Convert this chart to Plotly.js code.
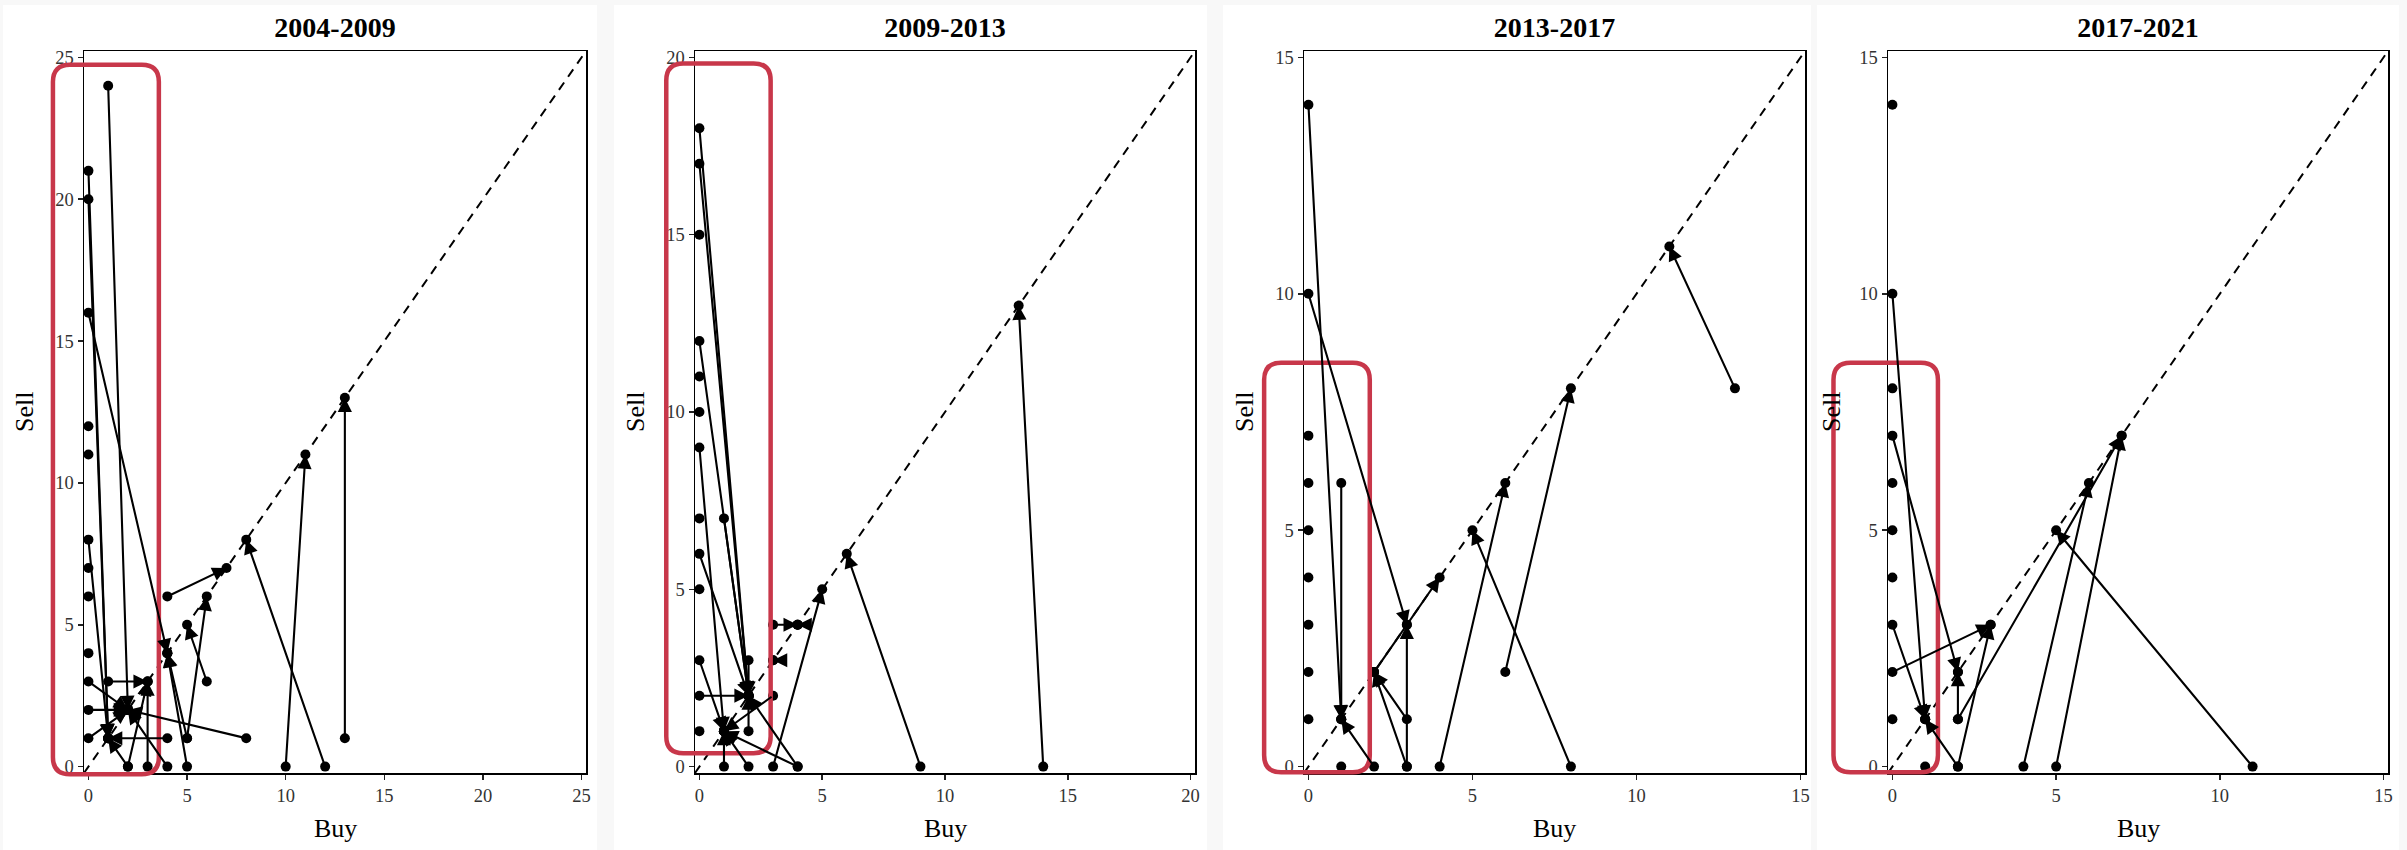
<!DOCTYPE html>
<html>
<head>
<meta charset="utf-8">
<script src="https://cdn.plot.ly/plotly-3.0.1.min.js"></script>
<style>
html,body{margin:0;padding:0;background:#f8f8f8;width:2407px;height:850px;overflow:hidden;}
.card{position:absolute;background:#ffffff;overflow:hidden;}
</style>
</head>
<body>
<div id="c1" class="card"></div>
<div id="c2" class="card"></div>
<div id="c3" class="card"></div>
<div id="c4" class="card"></div>
<script>
// ---------------- DATA ----------------
const panelTitles = ['2004-2009', '2009-2013', '2013-2017', '2017-2021'];
const axisMax = [25, 20, 15, 15];
const tickValues1 = [0, 5, 10, 15, 20, 25];
const tickValues2 = [0, 5, 10, 15, 20];
const tickValues3 = [0, 5, 10, 15];
const tickValues4 = [0, 5, 10, 15];
const xTitle = 'Buy';
const yTitle = 'Sell';

// Panel 1: 2004-2009 (arrow from -> to)
const p1FromBuy  = [1, 0, 0, 0, 0, 0, 0, 0, 1, 3, 2, 2, 4, 4, 8, 5, 5, 5, 6, 4, 12, 10, 13];
const p1FromSell = [24, 21, 20, 16, 8, 3, 2, 1, 3, 0, 0, 0, 0, 1, 1, 1, 0, 1, 3, 6, 0, 0, 1];
const p1ToBuy    = [2, 1, 1, 4, 1, 2, 2, 2, 3, 3, 3, 1, 2, 1, 2, 4, 4, 6, 5, 7, 8, 11, 13];
const p1ToSell   = [2, 1, 1, 4, 1, 2, 2, 2, 3, 3, 3, 1, 2, 1, 2, 4, 4, 6, 5, 7, 8, 11, 13];
const p1OnlyBuy  = [0, 0, 0, 0, 0];
const p1OnlySell = [12, 11, 7, 6, 4];

// Panel 2: 2009-2013
const p2FromBuy  = [0, 0, 0, 0, 0, 1, 0, 0, 2, 2, 3, 1, 2, 4, 4, 3, 9, 14, 3, 3, 4];
const p2FromSell = [18, 17, 12, 9, 6, 7, 3, 2, 3, 1, 2, 0, 0, 0, 0, 0, 0, 0, 4, 3, 4];
const p2ToBuy    = [2, 2, 2, 1, 2, 2, 1, 2, 2, 2, 1, 1, 1, 1, 2, 5, 6, 13, 4, 3, 4];
const p2ToSell   = [2, 2, 2, 1, 2, 2, 1, 2, 2, 2, 1, 1, 1, 1, 2, 5, 6, 13, 4, 3, 4];
const p2OnlyBuy  = [0, 0, 0, 0, 0, 0];
const p2OnlySell = [15, 11, 10, 7, 5, 1];

// Panel 3: 2013-2017
const p3FromBuy  = [0, 0, 1, 2, 3, 3, 3, 2, 4, 8, 6, 13];
const p3FromSell = [14, 10, 6, 0, 1, 0, 0, 2, 0, 0, 2, 8];
const p3ToBuy    = [1, 3, 1, 1, 2, 2, 3, 4, 6, 5, 8, 11];
const p3ToSell   = [1, 3, 1, 1, 2, 2, 3, 4, 6, 5, 8, 11];
const p3OnlyBuy  = [0, 0, 0, 0, 0, 0, 0, 1];
const p3OnlySell = [7, 6, 5, 4, 3, 2, 1, 0];

// Panel 4: 2017-2021
const p4FromBuy  = [0, 0, 0, 0, 2, 2, 2, 2, 4, 5, 11];
const p4FromSell = [10, 7, 3, 2, 0, 0, 1, 1, 0, 0, 0];
const p4ToBuy    = [1, 2, 1, 3, 1, 3, 2, 7, 6, 7, 5];
const p4ToSell   = [1, 2, 1, 3, 1, 3, 2, 7, 6, 7, 5];
const p4OnlyBuy  = [0, 0, 0, 0, 0, 0, 1];
const p4OnlySell = [14, 8, 6, 5, 4, 1, 0];

// ---------------- LAYOUT GEOMETRY (page pixels) ----------------
const cards = [
  {id: 'c1', l: 3,    t: 5, r: 597,  b: 850},
  {id: 'c2', l: 614,  t: 5, r: 1207, b: 850},
  {id: 'c3', l: 1223, t: 5, r: 1811, b: 850},
  {id: 'c4', l: 1817, t: 5, r: 2399, b: 850}
];
const plots = [
  {l: 84,   r: 586,  t: 51, b: 773},
  {l: 695,  r: 1195, t: 51, b: 773},
  {l: 1304, r: 1805, t: 51, b: 773},
  {l: 1888, r: 2388, t: 51, b: 773}
];
const yTitleOffset = [-60, -60, -60, -57];
// highlight boxes in data units of each panel
const boxes = [
  {x0: -1.80, x1: 3.57, y0: -0.27, y1: 24.74},
  {x0: -1.35, x1: 2.90, y0: 0.38,  y1: 19.83},
  {x0: -1.35, x1: 1.87, y0: -0.12, y1: 8.54},
  {x0: -1.80, x1: 1.39, y0: -0.12, y1: 8.54}
];

const SERIF = 'Liberation Serif, Times New Roman, serif';

function drawPanel(k, title, aMax, ticks, fB, fS, tB, tS, oB, oS) {
  const card = cards[k], pl = plots[k], box = boxes[k];
  const el = document.getElementById(card.id);
  const W = card.r - card.l, H = card.b - card.t;
  el.style.left = card.l + 'px'; el.style.top = card.t + 'px';
  el.style.width = W + 'px'; el.style.height = H + 'px';
  const pw = pl.r - pl.l, ph = pl.b - pl.t;
  const lo = -0.009 * aMax, hi = 1.009 * aMax;
  const pxX = pw / (hi - lo);

  // dots: all arrow starts, ends and single points
  const dotX = fB.concat(tB, oB);
  const dotY = fS.concat(tS, oS);

  const annotations = [];
  for (let i = 0; i < fB.length; i++) {
    let ax = fB[i], ay = fS[i];
    if (ax === tB[i] && ay === tS[i]) { ax = tB[i] + 8 / pxX; } // zero-length arrow: head points left
    annotations.push({
      x: tB[i], y: tS[i], ax: ax, ay: ay,
      xref: 'x', yref: 'y', axref: 'x', ayref: 'y',
      text: '', showarrow: true, arrowhead: 2, arrowsize: 1.35, arrowwidth: 2.1,
      arrowcolor: '#000000', standoff: 0, startstandoff: 0
    });
  }
  annotations.push({
    text: xTitle, xref: 'paper', yref: 'paper', x: 0.5, y: -(828 - pl.b) / ph,
    xanchor: 'center', yanchor: 'middle', showarrow: false,
    font: {family: SERIF, size: 26, color: '#000000'}
  });
  annotations.push({
    text: yTitle, xref: 'paper', yref: 'paper', x: yTitleOffset[k] / pw, y: 0.5, textangle: -90,
    xanchor: 'center', yanchor: 'middle', showarrow: false,
    font: {family: SERIF, size: 26, color: '#000000'}
  });

  // rounded highlight box (paper coords)
  const px = v => (v - lo) / (hi - lo);
  const bx0 = px(box.x0), bx1 = px(box.x1), by0 = px(box.y0), by1 = px(box.y1);
  const rx = 17 / pw, ry = 17 / ph;
  const path = `M${bx0 + rx},${by1} L${bx1 - rx},${by1} Q${bx1},${by1} ${bx1},${by1 - ry} ` +
               `L${bx1},${by0 + ry} Q${bx1},${by0} ${bx1 - rx},${by0} L${bx0 + rx},${by0} ` +
               `Q${bx0},${by0} ${bx0},${by0 + ry} L${bx0},${by1 - ry} Q${bx0},${by1} ${bx0 + rx},${by1} Z`;

  const axisCommon = {
    range: [lo, hi], tickvals: ticks, ticktext: ticks.map(String),
    showgrid: false, zeroline: false, showline: true, mirror: true,
    linecolor: '#000000', linewidth: 1.5,
    ticks: 'outside', ticklen: 5, tickwidth: 1.6, tickcolor: '#222222',
    tickfont: {family: SERIF, size: 18.5, color: '#333333'},
    fixedrange: true
  };

  const layout = {
    width: W, height: H, autosize: false,
    margin: {l: pl.l - card.l, r: card.r - pl.r, t: pl.t - card.t, b: card.b - pl.b, pad: 0},
    paper_bgcolor: '#ffffff', plot_bgcolor: '#ffffff',
    showlegend: false,
    title: {
      text: '<b>' + title + '</b>',
      font: {family: SERIF, size: 28, color: '#000000'},
      x: 0.5, xref: 'paper', xanchor: 'center',
      y: 1 - (27 - card.t) / H, yref: 'container', yanchor: 'middle'
    },
    xaxis: Object.assign({}, axisCommon),
    yaxis: Object.assign({}, axisCommon),
    shapes: [
      {type: 'line', xref: 'x domain', yref: 'y domain', x0: 0, y0: 0, x1: 1, y1: 1,
       line: {color: '#000000', width: 2, dash: '9px,7px'}, layer: 'below'},
      {type: 'path', xref: 'paper', yref: 'paper', path: path,
       line: {color: '#c8374a', width: 4.5}, fillcolor: 'rgba(0,0,0,0)', layer: 'above'}
    ],
    annotations: annotations
  };

  const traces = [{
    type: 'scatter', mode: 'markers', x: dotX, y: dotY,
    marker: {size: 10, color: '#000000', line: {width: 0}},
    cliponaxis: false, hoverinfo: 'skip'
  }];

  Plotly.newPlot(el, traces, layout, {staticPlot: true, displayModeBar: false});
}

drawPanel(0, panelTitles[0], axisMax[0], tickValues1, p1FromBuy, p1FromSell, p1ToBuy, p1ToSell, p1OnlyBuy, p1OnlySell);
drawPanel(1, panelTitles[1], axisMax[1], tickValues2, p2FromBuy, p2FromSell, p2ToBuy, p2ToSell, p2OnlyBuy, p2OnlySell);
drawPanel(2, panelTitles[2], axisMax[2], tickValues3, p3FromBuy, p3FromSell, p3ToBuy, p3ToSell, p3OnlyBuy, p3OnlySell);
drawPanel(3, panelTitles[3], axisMax[3], tickValues4, p4FromBuy, p4FromSell, p4ToBuy, p4ToSell, p4OnlyBuy, p4OnlySell);
</script>
</body>
</html>
